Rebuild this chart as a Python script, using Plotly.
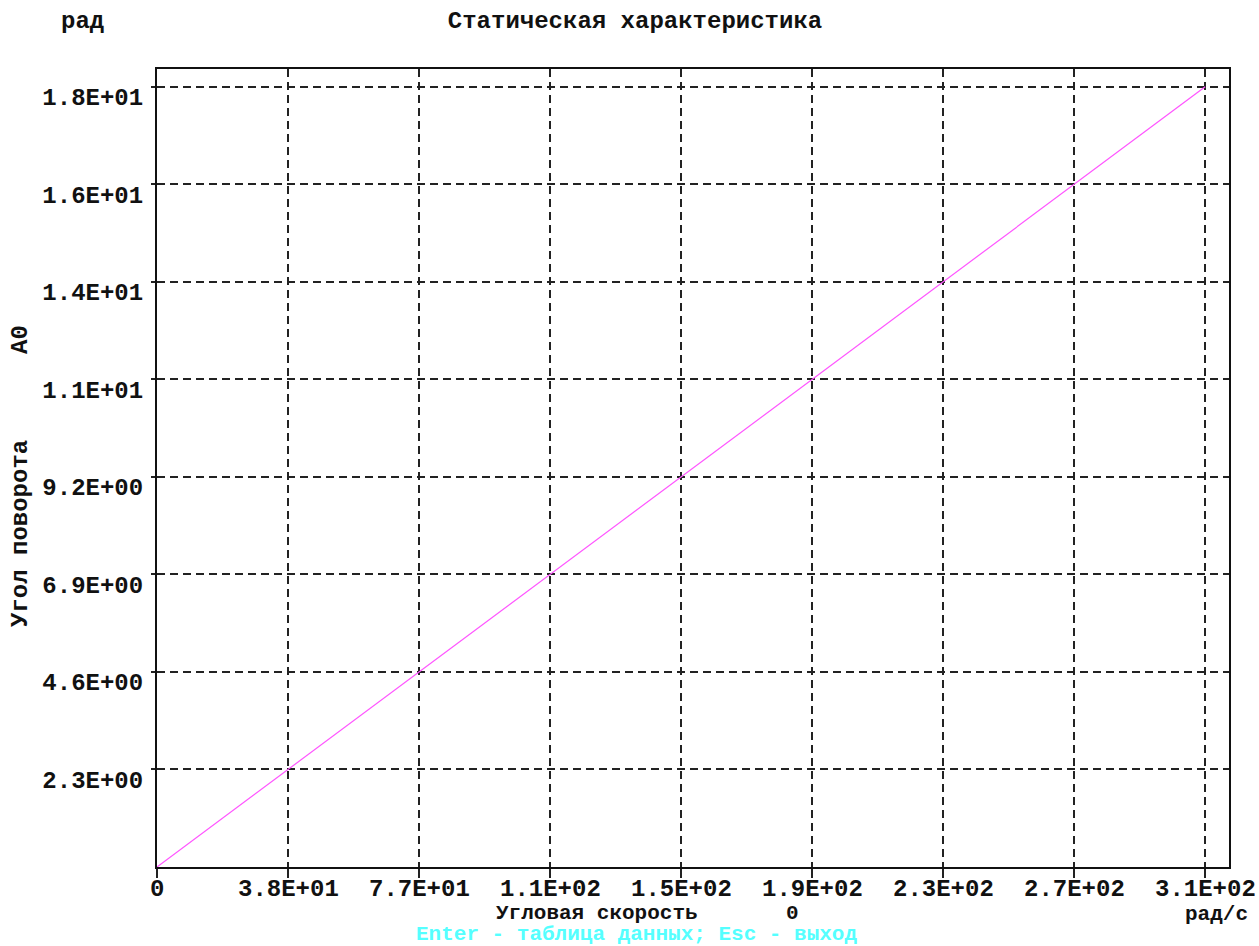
import numpy as np
import plotly.graph_objects as go

# Static characteristic: rotation angle vs angular velocity
speed = [0, 308.0]          # рад/с
angle = [0, 18.4]           # рад

x_tick_text = ["0", "3.8E+01", "7.7E+01", "1.1E+02", "1.5E+02",
               "1.9E+02", "2.3E+02", "2.7E+02", "3.1E+02"]
y_tick_text = ["2.3E+00", "4.6E+00", "6.9E+00", "9.2E+00",
               "1.1E+01", "1.4E+01", "1.6E+01", "1.8E+01"]

x_tick_vals = np.linspace(0, speed[-1], len(x_tick_text))
y_tick_vals = np.linspace(0, angle[-1], len(y_tick_text) + 1)[1:]

W, H = 1259, 946
L, R, T, B = 157, 30, 69, 79
pw, ph = W - L - R, H - T - B

FONT = "Liberation Mono"
TXT = dict(family=FONT, size=24, color="#111111", weight="bold")
TXT_SMALL = dict(family=FONT, size=21, color="#111111", weight="bold")
HINT = dict(family=FONT, size=21, color="#55ffff", weight="bold")


def px(xp, yp):
    """pixel position -> paper coordinates"""
    return (xp - L) / pw, (H - B - yp) / ph


fig = go.Figure()
fig.add_trace(go.Scatter(
    x=speed, y=angle, mode="lines",
    line=dict(color="#ff55ff", width=1.2),
    hoverinfo="skip", showlegend=False,
))

axis_common = dict(
    showline=True, linecolor="#111111", linewidth=2, mirror=True,
    showgrid=True, gridcolor="#222222", gridwidth=1.6, griddash="8px,5px",
    zeroline=False, ticks="outside", tickcolor="#222222", tickwidth=1.6,
    tickfont=TXT, tickmode="array",
)

# x tick labels are drawn as annotations just under the tick marks
fig.update_xaxes(
    **axis_common, range=[0, 315], tickvals=x_tick_vals,
    showticklabels=False, ticklen=9,
)
fig.update_yaxes(
    **axis_common, range=[0, 18.82], tickvals=y_tick_vals, ticktext=y_tick_text,
    ticklen=4, ticklabelshift=10, ticklabelstandoff=3,
)

_, y_lab = px(0, 889)
for val, text in zip(x_tick_vals, x_tick_text):
    fig.add_annotation(text=text, x=val, y=y_lab, xref="x", yref="paper",
                       showarrow=False, xanchor="center", yanchor="middle",
                       font=TXT)

notes = [
    ("рад", 82, 22, TXT, 0),
    ("A0", 20, 340, TXT, -90),
    ("Угол поворота", 20, 534, TXT, -90),
    ("Угловая скорость", 597, 913, TXT_SMALL, 0),
    ("0", 792, 913, TXT_SMALL, 0),
    ("рад/с", 1216, 914, TXT_SMALL, 0),
    ("Enter - таблица данных; Esc - выход", 636, 935, HINT, 0),
]
for text, x, y, font, ang in notes:
    ax, ay = px(x, y)
    fig.add_annotation(text=text, x=ax, y=ay, xref="paper", yref="paper",
                       showarrow=False, xanchor="center", yanchor="middle",
                       font=font, textangle=ang, borderpad=0)

fig.update_layout(
    width=W, height=H,
    margin=dict(l=L, r=R, t=T, b=B),
    paper_bgcolor="white", plot_bgcolor="white",
    title=dict(text="Статическая характеристика", x=635 / W, y=1 - 20 / H,
               xref="container", yref="container",
               xanchor="center", yanchor="middle", font=TXT),
)

fig.write_html("out.html")
